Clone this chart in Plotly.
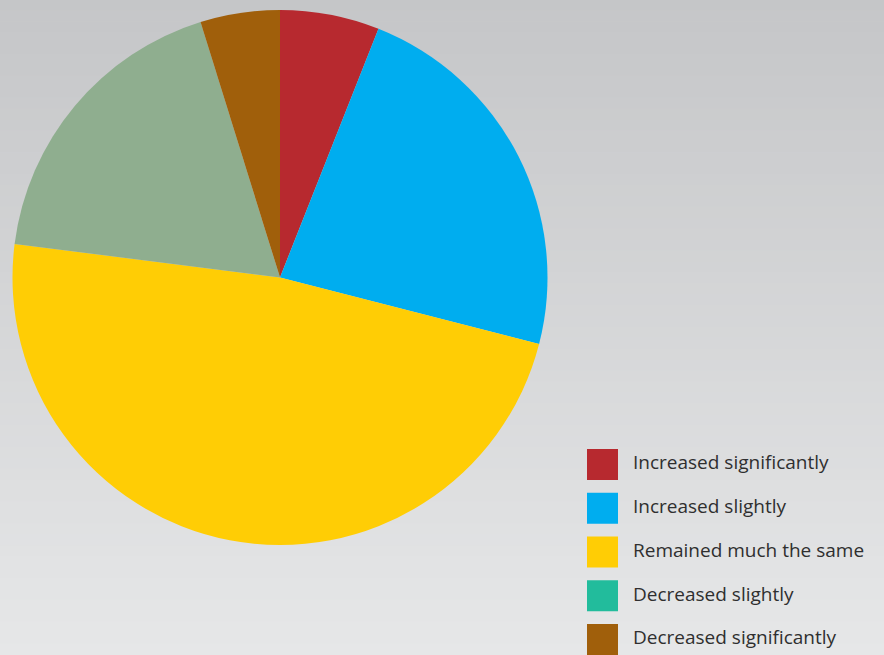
import plotly.graph_objects as go

categories = ["Increased significantly", "Increased slightly", "Remained much the same",
              "Decreased slightly", "Decreased significantly"]
values = [6.0, 23.0, 48.0, 18.2, 4.8]
slice_colors = ["#b7292f", "#00adef", "#ffcd05", "#8fae8f", "#a05f0b"]
legend_colors = ["#b7292f", "#00adef", "#ffcd05", "#22bc9c", "#a05f0b"]

W, H = 884, 655

fig = go.Figure()

# background vertical gradient built from thin stripes
n = 60
top = (197, 198, 200)
bot = (230, 231, 232)
for i in range(n):
    t = i / (n - 1)
    c = tuple(round(top[k] + (bot[k] - top[k]) * t) for k in range(3))
    fig.add_shape(type="rect", xref="paper", yref="paper",
                  x0=0, x1=1, y0=1 - (i + 1) / n, y1=1 - i / n + 0.001,
                  fillcolor="rgb(%d,%d,%d)" % c, line=dict(width=0), layer="below")

cx, cy, r = 280, 277.5, 267.5
fig.add_trace(go.Pie(
    labels=categories, values=values, sort=False, direction="clockwise", rotation=0,
    marker=dict(colors=slice_colors, line=dict(width=0)),
    textinfo="none", hoverinfo="skip", showlegend=False,
    domain=dict(x=[(cx - r) / W, (cx + r) / W], y=[1 - (cy + r) / H, 1 - (cy - r) / H]),
))

# custom legend
fig.add_trace(go.Scatter(
    x=[0] * len(categories), y=categories, mode="markers",
    marker=dict(symbol="square", size=31, color=legend_colors, line=dict(width=0)),
    cliponaxis=False, hoverinfo="skip", showlegend=False,
))
fig.add_trace(go.Scatter(
    x=[1] * len(categories), y=categories, mode="text", text=categories,
    textposition="middle right", textfont=dict(size=19, color="#2f2f2f", family="Open Sans"),
    cliponaxis=False, hoverinfo="skip", showlegend=False,
))

row0, step = 464.5, 43.75
top_edge = row0 - step / 2
span = (H - top_edge) / step
fig.update_layout(
    width=W, height=H, margin=dict(l=0, r=0, t=0, b=0),
    paper_bgcolor="#d5d6d8", plot_bgcolor="rgba(0,0,0,0)",
    xaxis=dict(visible=False, range=[0, 1], domain=[602.5 / W, 633 / W], fixedrange=True),
    yaxis=dict(visible=False, type="category", categoryorder="array", categoryarray=categories,
               range=[span - 0.5, -0.5], domain=[0, 1 - top_edge / H], fixedrange=True),
    showlegend=False,
)

fig.write_html("out.html", config={"displayModeBar": False})

with open("out.html", "r", encoding="utf-8") as f:
    html = f.read()
html = html.replace("<head>", "<head><style>html,body{margin:0;padding:0;overflow:hidden;}</style>", 1)
with open("out.html", "w", encoding="utf-8") as f:
    f.write(html)
